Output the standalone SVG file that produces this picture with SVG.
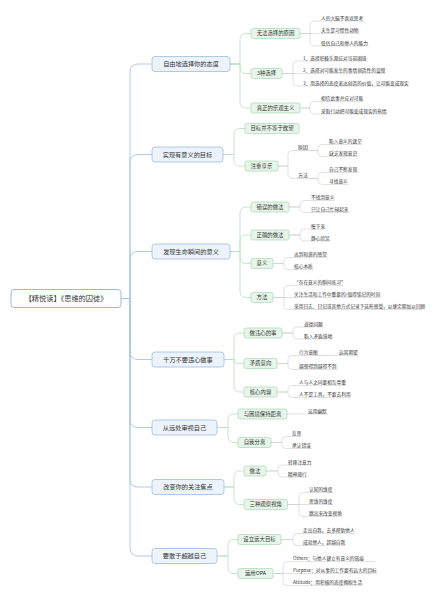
<svg xmlns="http://www.w3.org/2000/svg" width="437" height="600" viewBox="0 0 437 600">
<style>
text{font-family:"Noto Sans CJK SC","Noto Sans",sans-serif;fill:#333}
.root rect{fill:#ffffff;stroke:#8fb1dd;stroke-width:0.9}
.root text{font-size:7.2px;text-anchor:middle}
.l1 rect{fill:#edf3fb;stroke:#9fbde3;stroke-width:0.8}
.l1 text{font-size:6.2px;text-anchor:middle}
.l2 rect{fill:#e7f5ea;stroke:#a6d8b1;stroke-width:0.7}
.l2 text{font-size:5.4px;text-anchor:middle}
.lf text{font-size:4.7px}
.c1{fill:none;stroke:#a8c4e6;stroke-width:0.9}
.c2{fill:none;stroke:#b6e0c0;stroke-width:0.8}
.c3{fill:none;stroke:#cfcfcf;stroke-width:0.6}
</style>
<rect width="437" height="600" fill="#ffffff"/>
<g id="connectors">
<path class="c1" d="M121,298.5H130V72Q130,64 138,64H152"/>
<path class="c1" d="M121,298.5H130V162.5Q130,154.5 138,154.5H152"/>
<path class="c1" d="M121,298.5H130V259.5Q130,251.5 138,251.5H152"/>
<path class="c1" d="M121,298.5H130V351.5Q130,359.5 138,359.5H152"/>
<path class="c1" d="M121,298.5H130V419.5Q130,427.5 138,427.5H152"/>
<path class="c1" d="M121,298.5H130V479Q130,487 138,487H152"/>
<path class="c1" d="M121,298.5H130V548Q130,556 138,556H152"/>
<path class="c2" d="M230,64H240V39.5Q240,33.5 246,33.5H251"/>
<path class="c2" d="M230,64H240V67.5Q240,73.5 246,73.5H251"/>
<path class="c2" d="M230,64H240V102Q240,108 246,108H251"/>
<path class="c2" d="M223,154.5H234V134.5Q234,128.5 240,128.5H245"/>
<path class="c2" d="M223,154.5H234V160Q234,166 240,166H245"/>
<path class="c2" d="M230,251.5H240V213Q240,207 246,207H251"/>
<path class="c2" d="M230,251.5H240V241Q240,235 246,235H251"/>
<path class="c2" d="M230,251.5H240V257.5Q240,263.5 246,263.5H251"/>
<path class="c2" d="M230,251.5H240V291.5Q240,297.5 246,297.5H251"/>
<path class="c2" d="M224,359.5H234V339Q234,333 240,333H244"/>
<path class="c2" d="M224,359.5H234Q234,363.5 238,363.5H244"/>
<path class="c2" d="M224,359.5H234V386Q234,392 240,392H244"/>
<path class="c2" d="M217,427.5H228V420Q228,414 234,414H238"/>
<path class="c2" d="M217,427.5H228V436.5Q228,442.5 234,442.5H238"/>
<path class="c2" d="M224,487H234V477Q234,471 240,471H244"/>
<path class="c2" d="M224,487H234V498.5Q234,504.5 240,504.5H244"/>
<path class="c2" d="M217,556H228V545.5Q228,539.5 234,539.5H238"/>
<path class="c2" d="M217,556H228V567.5Q228,573.5 234,573.5H238"/>
<path class="c3" d="M300,33.5H310V25Q310,21 314,21H364"/>
<path class="c3" d="M300,33.5H360"/>
<path class="c3" d="M300,33.5H310V42Q310,46 314,46H369"/>
<path class="c3" d="M282,73.5H293V65Q293,61 297,61H368"/>
<path class="c3" d="M282,73.5H386"/>
<path class="c3" d="M282,73.5H293V82Q293,86 297,86H408"/>
<path class="c3" d="M300,108H310V105.5Q310,101.5 314,101.5H364"/>
<path class="c3" d="M300,108H310V110Q310,114 314,114H387"/>
<path class="c3" d="M278,166H288V154.5Q288,150.5 292,150.5H309"/>
<path class="c3" d="M278,166H288V174.5Q288,178.5 292,178.5H309"/>
<path class="c3" d="M309,150.5H318V148.5Q318,144.5 322,144.5H362"/>
<path class="c3" d="M309,150.5H318V152.5Q318,156.5 322,156.5H358"/>
<path class="c3" d="M309,178.5H318V176.5Q318,172.5 322,172.5H358"/>
<path class="c3" d="M309,178.5H318V180.5Q318,184.5 322,184.5H348.5"/>
<path class="c3" d="M289,207H300V204.5Q300,200.5 304,200.5H335"/>
<path class="c3" d="M289,207H300V208.5Q300,212.5 304,212.5H349.5"/>
<path class="c3" d="M289,235H300V233Q300,229 304,229H326"/>
<path class="c3" d="M289,235H300V237Q300,241 304,241H330.5"/>
<path class="c3" d="M273,263.5H284V261.5Q284,257.5 288,257.5H328"/>
<path class="c3" d="M273,263.5H284V265.5Q284,269.5 288,269.5H313.5"/>
<path class="c3" d="M273,297.5H284V289.5Q284,285.5 288,285.5H343"/>
<path class="c3" d="M273,297.5H381"/>
<path class="c3" d="M273,297.5H284V305.5Q284,309.5 288,309.5H422"/>
<path class="c3" d="M282,333H293V331Q293,327 297,327H323.5"/>
<path class="c3" d="M282,333H293V335Q293,339 297,339H333"/>
<path class="c3" d="M277,363.5H288V359.5Q288,355.5 292,355.5H358.5"/>
<path class="c3" d="M277,363.5H288V365.5Q288,369.5 292,369.5H337.5"/>
<path class="c3" d="M277,392H288V389.5Q288,385.5 292,385.5H346.5"/>
<path class="c3" d="M277,392H288V393.5Q288,397.5 292,397.5H351"/>
<path class="c3" d="M287,414H328"/>
<path class="c3" d="M271,442.5H282V440.5Q282,436.5 286,436.5H302"/>
<path class="c3" d="M271,442.5H282V444.5Q282,448.5 286,448.5H311.5"/>
<path class="c3" d="M266,471H278V469Q278,465 282,465H312"/>
<path class="c3" d="M266,471H278V473Q278,477 282,477H307.5"/>
<path class="c3" d="M287.5,504.5H299V496.5Q299,492.5 303,492.5H333"/>
<path class="c3" d="M287.5,504.5H333"/>
<path class="c3" d="M287.5,504.5H299V512.5Q299,516.5 303,516.5H342.5"/>
<path class="c3" d="M281,539.5H293V537.5Q293,533.5 297,533.5H355"/>
<path class="c3" d="M281,539.5H293V541.5Q293,545.5 297,545.5H346"/>
<path class="c3" d="M273,573.5H283V565.5Q283,561.5 287,561.5H375"/>
<path class="c3" d="M273,573.5H377"/>
<path class="c3" d="M273,573.5H283V581.5Q283,585.5 287,585.5H363"/>
</g>
<g id="root" class="root"><rect x="11" y="289.5" width="110" height="18" rx="3"/><text x="66" y="301">【精悦读】《思维的囚徒》</text></g>
<g id="b1" class="l1"><rect x="152" y="56.5" width="78" height="15" rx="3"/><text x="191" y="66.2">自由地选择你的态度</text></g>
<g id="b2" class="l1"><rect x="152" y="147" width="71" height="15" rx="3"/><text x="187.5" y="156.7">实现有意义的目标</text></g>
<g id="b3" class="l1"><rect x="152" y="244" width="78" height="15" rx="3"/><text x="191" y="253.7">发现生命瞬间的意义</text></g>
<g id="b4" class="l1"><rect x="152" y="352" width="72" height="15" rx="3"/><text x="188" y="361.7">千万不要违心做事</text></g>
<g id="b5" class="l1"><rect x="152" y="420" width="65" height="15" rx="3"/><text x="184.5" y="429.7">从远处审视自己</text></g>
<g id="b6" class="l1"><rect x="152" y="479.5" width="72" height="15" rx="3"/><text x="188" y="489.2">改变你的关注焦点</text></g>
<g id="b7" class="l1"><rect x="152" y="548.5" width="65" height="15" rx="3"/><text x="184.5" y="558.2">要敢于超越自己</text></g>
<g id="n1a" class="l2"><rect x="251" y="28.5" width="49" height="10" rx="2"/><text x="275.5" y="35.4">无法选择的原因</text></g>
<g id="n1b" class="l2"><rect x="251" y="68.5" width="31" height="10" rx="2"/><text x="266.5" y="75.4">3种选择</text></g>
<g id="n1c" class="l2"><rect x="251" y="103" width="49" height="10" rx="2"/><text x="275.5" y="109.9">真正的乐观主义</text></g>
<g id="n2a" class="l2"><rect x="245" y="123.5" width="54" height="10" rx="2"/><text x="272" y="130.4">目标并不等于欲望</text></g>
<g id="n2b" class="l2"><rect x="245" y="161" width="33" height="10" rx="2"/><text x="261.5" y="167.9">注重享乐</text></g>
<g id="n3a" class="l2"><rect x="251" y="202" width="38" height="10" rx="2"/><text x="270" y="208.9">错误的做法</text></g>
<g id="n3b" class="l2"><rect x="251" y="230" width="38" height="10" rx="2"/><text x="270" y="236.9">正确的做法</text></g>
<g id="n3c" class="l2"><rect x="251" y="258.5" width="22" height="10" rx="2"/><text x="262" y="265.4">意义</text></g>
<g id="n3d" class="l2"><rect x="251" y="292.5" width="22" height="10" rx="2"/><text x="262" y="299.4">方法</text></g>
<g id="n4a" class="l2"><rect x="244" y="328" width="38" height="10" rx="2"/><text x="263" y="334.9">做违心的事</text></g>
<g id="n4b" class="l2"><rect x="244" y="358.5" width="33" height="10" rx="2"/><text x="260.5" y="365.4">矛盾意向</text></g>
<g id="n4c" class="l2"><rect x="244" y="387" width="33" height="10" rx="2"/><text x="260.5" y="393.9">核心内容</text></g>
<g id="n5a" class="l2"><rect x="238" y="409" width="49" height="10" rx="2"/><text x="262.5" y="415.9">与困境保持距离</text></g>
<g id="n5b" class="l2"><rect x="238" y="437.5" width="33" height="10" rx="2"/><text x="254.5" y="444.4">自我分离</text></g>
<g id="n6a" class="l2"><rect x="244" y="466" width="22" height="10" rx="2"/><text x="255" y="472.9">做法</text></g>
<g id="n6b" class="l2"><rect x="244" y="499.5" width="43.5" height="10" rx="2"/><text x="265.75" y="506.4">三种观察视角</text></g>
<g id="n7a" class="l2"><rect x="238" y="534.5" width="43" height="10" rx="2"/><text x="259.5" y="541.4">设立远大目标</text></g>
<g id="n7b" class="l2"><rect x="238" y="568.5" width="35" height="10" rx="2"/><text x="255.5" y="575.4">运用OPA</text></g>
<g id="leaves" class="lf">
<text x="321" y="19.7">人的大脑不喜欢思考</text>
<text x="321" y="32.2">天生是习惯性动物</text>
<text x="321" y="44.7">低估自己和他人的能力</text>
<text x="303" y="59.7">1、选择积极乐观应对当前困境</text>
<text x="303" y="72.2">2、选择对可能发生的事情创造性的设想</text>
<text x="303" y="84.7">3、用选择的态度表达创造的价值，让可能变成现实</text>
<text x="321" y="100.2">相信此事并应对可能</text>
<text x="321" y="112.7">采取行动把可能变成现实的热情</text>
<text x="298" y="149.2" style="font-size:5px">原因</text>
<text x="298" y="177.2" style="font-size:5px">方法</text>
<text x="329" y="143.2">陷入意义的迷茫</text>
<text x="329" y="155.2">缺乏发现意识</text>
<text x="329" y="171.2">自己不断发现</text>
<text x="329" y="183.2">寻找意义</text>
<text x="311" y="199.2">不找到意义</text>
<text x="311" y="211.2">只让自己忙碌起来</text>
<text x="311" y="227.7">慢下来</text>
<text x="311" y="239.7">静心欣赏</text>
<text x="294" y="256.2">达到和谐的感觉</text>
<text x="294" y="268.2">核心本质</text>
<text x="294" y="284.2">“存在意义的瞬间练习”</text>
<text x="294" y="296.2">关注生活和工作中重要的/值得铭记的时刻</text>
<text x="294" y="308.2">采用日志、日记或其他方式记录下这些感受，以便定期加以回顾</text>
<text x="304" y="325.7">道德问题</text>
<text x="304" y="337.7">陷入矛盾境地</text>
<text x="299" y="354.2">行为意图</text>
<text x="339" y="354.2">远离期望</text>
<text x="299" y="368.2">越想得到越得不到</text>
<text x="299" y="384.2">人与人之间要相互尊重</text>
<text x="299" y="396.2">人不是工具，不要去利用</text>
<text x="308" y="412.7">运用幽默</text>
<text x="292" y="435.2">反思</text>
<text x="292" y="447.2">承认错误</text>
<text x="288" y="463.7">转移注意力</text>
<text x="288" y="475.7">精神旅行</text>
<text x="309" y="491.2">认知的维度</text>
<text x="309" y="503.2">思维的维度</text>
<text x="309" y="515.2">跳出来改变视角</text>
<text x="303" y="532.2">走出自我，去多帮助他人</text>
<text x="303" y="544.2">成就他人，超越自我</text>
<text x="293" y="560.2">Others：与他人建立有意义的链接</text>
<text x="293" y="572.2">Purpose：对从事的工作要有远大的目标</text>
<text x="293" y="584.2">Attitude：用积极的态度拥抱生活</text>
</g>
</svg>
